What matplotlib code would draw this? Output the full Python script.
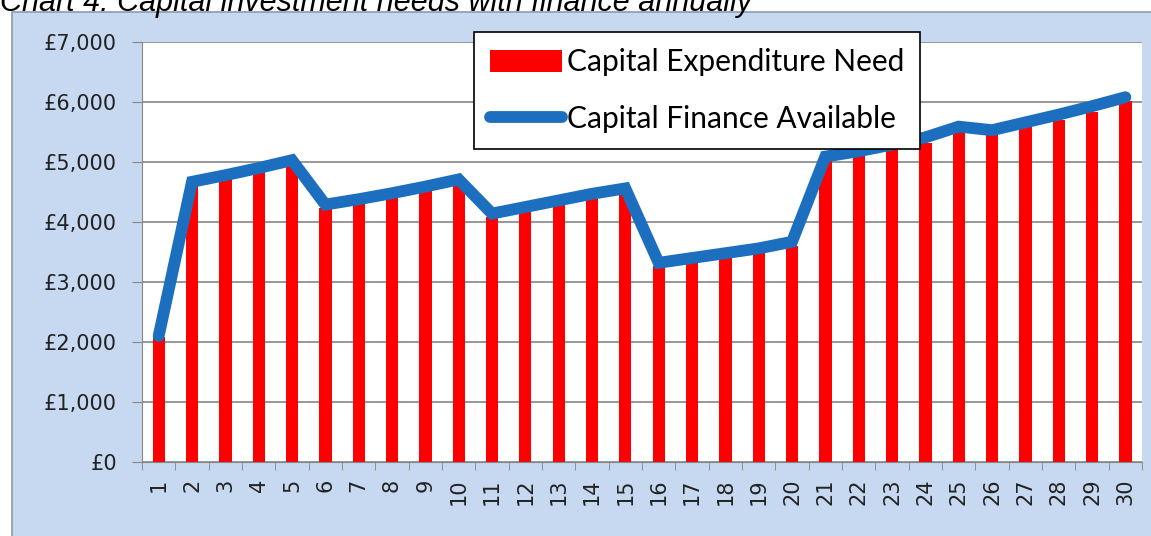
import matplotlib.pyplot as plt
from matplotlib.patches import Rectangle
from matplotlib.ticker import FuncFormatter, MultipleLocator
import numpy as np

years = list(range(1, 31))
expenditure_need = [2080, 4620, 4740, 4860, 4980, 4240, 4330, 4430, 4530, 4640,
                    4080, 4180, 4290, 4390, 4490, 3260, 3340, 3420, 3500, 3600,
                    5010, 5100, 5200, 5320, 5500, 5470, 5580, 5700, 5840, 6020]
finance_available = [2100, 4670, 4780, 4900, 5030, 4290, 4380, 4480, 4590, 4710,
                     4140, 4250, 4360, 4470, 4560, 3320, 3400, 3480, 3560, 3670,
                     5090, 5180, 5290, 5410, 5590, 5530, 5660, 5790, 5930, 6080]

W, H = 1151, 536
fig = plt.figure(figsize=(W / 100, H / 100), dpi=100, facecolor='white')

# chart area background
fig.patches.append(Rectangle((12 / W, -0.05), 1.2, 1 - 12 / H + 0.05,
                             transform=fig.transFigure, facecolor='#C6D9F1',
                             edgecolor='#8C9BAD', lw=1.2, zorder=-10))

fig.text(0.0, 1 - 11 / H, 'Chart 4: Capital investment needs with finance annually',
         fontsize=22, style='italic', family='Liberation Sans', va='baseline',
         ha='left', color='black')

ax = fig.add_axes([142 / W, 1 - 462 / H, 1000 / W, 420 / H])
ax.set_facecolor('white')

x = np.arange(len(years))
bars = ax.bar(x, expenditure_need, width=0.37, color='#FF0000', zorder=2)
line, = ax.plot(x, finance_available, color='#1C6EBF', lw=8.5, solid_joinstyle='miter',
                solid_capstyle='round', zorder=3)

ax.set_xlim(-0.5, len(years) - 0.5)
ax.set_ylim(0, 7000)
ax.yaxis.set_major_locator(MultipleLocator(1000))
ax.yaxis.set_major_formatter(FuncFormatter(lambda v, p: '£{:,.0f}'.format(v)))
ax.grid(axis='y', color='#868686', lw=1.2, zorder=1)

ax.set_xticks(x)
ax.set_xticklabels([str(y) for y in years], rotation=90)
ax.set_xticks(np.arange(-0.5, len(years)), minor=True)
ax.tick_params(axis='x', which='major', length=0, pad=12, labelsize=15, colors='#222222')
ax.tick_params(axis='x', which='minor', length=6, color='#868686', direction='out')
ax.tick_params(axis='y', length=7, color='#868686', labelsize=15, pad=11,
               labelcolor='#222222')

for s in ['top', 'right']:
    ax.spines[s].set_visible(False)
ax.spines['left'].set_color('#868686')
ax.spines['bottom'].set_color('#868686')

leg = fig.legend([bars, line], ['Capital Expenditure Need', 'Capital Finance Available'],
                 loc='upper left', bbox_to_anchor=(474 / W, 1 - 32 / H),
                 prop={'family': 'Lato', 'size': 21.5}, frameon=True, fancybox=False,
                 edgecolor='black', framealpha=1, handlelength=2.4,
                 handleheight=0.75, labelspacing=0.95, borderpad=0.55,
                 handletextpad=0.15, borderaxespad=0)
leg.get_frame().set_linewidth(1.2)

fig.savefig('out.png', dpi=100, facecolor='white')
